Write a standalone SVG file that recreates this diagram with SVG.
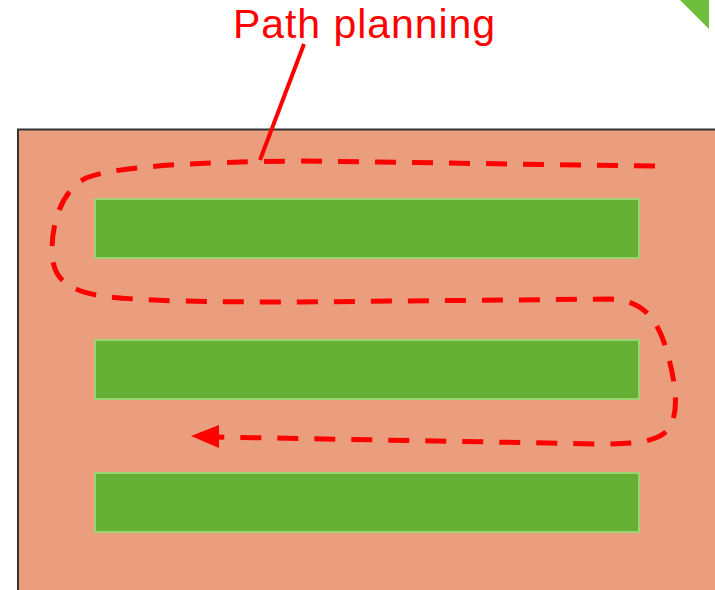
<svg xmlns="http://www.w3.org/2000/svg" width="715" height="590" viewBox="0 0 715 590">
<style>
.bed{fill:#65AF35;stroke:#9CD474;stroke-width:2}
.route{fill:none;stroke:#FF0000;stroke-width:5;stroke-dasharray:21 16}
.lbl{font-family:"Liberation Sans",Arial,sans-serif;font-size:41px;fill:#FF0000}
</style>
<rect width="715" height="590" fill="#FFFFFF"/>
<polygon points="680,0 709,0 709,29" fill="#6DBE3B"/>
<g id="field">
<rect x="18" y="129.5" width="720" height="470" fill="#EA9E7D" stroke="#333333" stroke-width="2"/>
</g>
<g id="bed1"><rect class="bed" x="95" y="199" width="544" height="59"/></g>
<g id="bed2"><rect class="bed" x="95" y="340" width="544" height="59"/></g>
<g id="bed3"><rect class="bed" x="95" y="473" width="544" height="59"/></g>
<g id="label">
<text class="lbl" x="233" y="38" textLength="262" lengthAdjust="spacing">Path planning</text>
</g>
<g id="connectors">
<line x1="304" y1="44" x2="260" y2="160" stroke="#FF0000" stroke-width="4"/>
<path class="route" d="M655,166 L300,161 C200,162 115,166 86,178 C62,190 52,222 52,250 C52,278 66,292 110,297 C150,301 200,302 300,302 L610,299 C640,300 655,315 665,345 C675,378 681,412 668,430 C656,443 630,444 600,444 L216,437"/>
<polygon points="191,436 219,425 219,448" fill="#FF0000"/>
</g>
</svg>
